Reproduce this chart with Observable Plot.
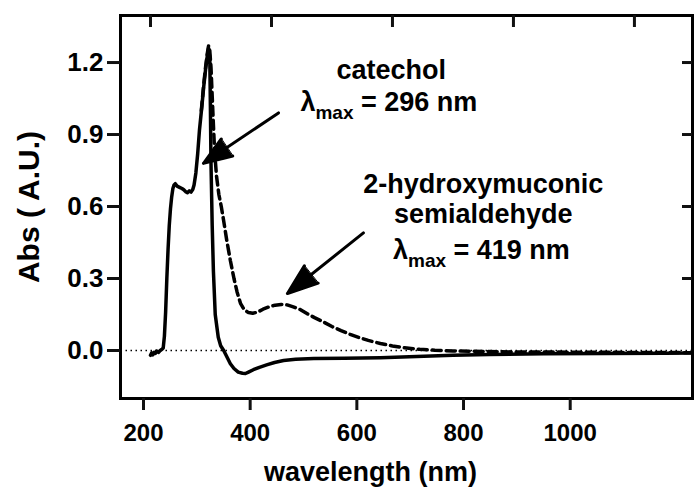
<!DOCTYPE html>
<html>
<head>
<meta charset="utf-8">
<script src="https://cdn.jsdelivr.net/npm/d3@7"></script>
<script src="https://cdn.jsdelivr.net/npm/@observablehq/plot@0.6"></script>
<style>
  html, body { margin: 0; padding: 0; background: #fff; }
  svg { display: block; }
</style>
</head>
<body>
<div id="chart"></div>
<script>
// Catechol spectrum (solid line)
const catWl  = [200,202,204,206,208,210,213,216,219,221,223,225,227,229,231,233,235,237,239,241,244,248,252,255,258,261,264,267,270,272,275,278,281,285,288,291,294,296,298,299,300,302,304,307,312,316,321,326,332,338,345,352,357,362,370,380,392,405,420,440,470,520,580,640,700,760,850,950,1050,1096];
const catAbs = [-0.02,-0.01,-0.018,-0.008,-0.012,-0.002,-0.008,0.0,0.005,0.01,0.06,0.16,0.3,0.42,0.52,0.59,0.64,0.675,0.69,0.695,0.685,0.68,0.675,0.67,0.662,0.658,0.665,0.66,0.672,0.69,0.74,0.82,0.92,1.02,1.10,1.17,1.23,1.26,1.22,1.02,0.78,0.52,0.33,0.15,0.055,0.02,0.0,-0.025,-0.055,-0.075,-0.09,-0.095,-0.096,-0.09,-0.08,-0.07,-0.06,-0.05,-0.042,-0.036,-0.033,-0.032,-0.03,-0.025,-0.02,-0.017,-0.014,-0.012,-0.011,-0.01];

// 2-hydroxymuconic semialdehyde spectrum (dashed line)
const hmsWl  = [284,288,291,294,296,298,300,302,304,306,309,313,317,321,326,332,338,343,349,355,362,369,377,386,396,406,416,426,436,448,460,472,485,500,515,530,545,560,580,600,620,645,670,700,750,800,900,1000,1096];
const hmsAbs = [1.0,1.11,1.18,1.24,1.27,1.25,1.18,1.06,0.94,0.83,0.73,0.65,0.6,0.54,0.46,0.375,0.3,0.245,0.195,0.17,0.158,0.155,0.16,0.172,0.182,0.189,0.192,0.19,0.182,0.17,0.152,0.136,0.12,0.1,0.083,0.067,0.054,0.042,0.029,0.019,0.011,0.005,0.001,-0.002,-0.004,-0.006,-0.007,-0.008,-0.009];

// Tick values / labels
const yTicks = [0, 0.3, 0.6, 0.9, 1.2];
const rightTicks = [0.3, 0.6, 0.9, 1.2];
const topTicks = [200, 400, 600, 800, 1000];
const bottomTickLabels = [200, 400, 600, 800, 1000];

// Annotation texts
const catLines = ["catechol", "λmax = 296 nm"];
const hmsLines = ["2-hydroxymuconic", "semialdehyde", "λmax = 419 nm"];

const xDomain = [150.4, 1096];
const yDomain = [-0.2, 1.396];

const cat = catWl.map((w, i) => ({wl: w, abs: catAbs[i]}));
const hms = hmsWl.map((w, i) => ({wl: w, abs: hmsAbs[i]}));

// The printed bottom axis is offset from the data scale (as in the original figure)
const bottomPos = v => 188.4 + (v - 200) * 0.8818;
const bottomLabelOf = d => String(Math.round((d - 188.4) / 0.8818 + 200));

const font = "Arial, 'Liberation Sans', Helvetica, sans-serif";

const arrows = [
  {x1: 411.6, y1: 0.99, x2: 287.6, y2: 0.78},
  {x1: 552, y1: 0.49, x2: 426.4, y2: 0.2375}
];

const txt = {fontSize: 27, fontWeight: "bold", fill: "#000", lineAnchor: "middle", textAnchor: "middle"};
const tickStyle = {stroke: "#111", strokeWidth: 3};

const chart = Plot.plot({
  width: 694,
  height: 491,
  marginLeft: 120,
  marginRight: 2,
  marginTop: 15,
  marginBottom: 93,
  style: {fontFamily: font, fontWeight: "bold", color: "#000", background: "#fff", overflow: "visible"},
  x: {domain: xDomain},
  y: {domain: yDomain},
  marks: [
    // dotted zero baseline
    Plot.link([0], {x1: () => xDomain[0], x2: () => xDomain[1], y1: d => d, y2: d => d, stroke: "#000", strokeWidth: 1.3, strokeDasharray: "1.5,3.5"}),
    Plot.line(hms, {x: "wl", y: "abs", stroke: "#000", strokeWidth: 3.5, strokeDasharray: "9,5"}),
    Plot.line(cat, {x: "wl", y: "abs", stroke: "#000", strokeWidth: 3.5}),
    Plot.arrow(arrows, {x1: "x1", y1: "y1", x2: "x2", y2: "y2", stroke: "#000", strokeWidth: 3, headLength: 20, headAngle: 40}),
    Plot.frame({stroke: "#000", strokeWidth: 3}),
    // tick marks
    Plot.ruleY(yTicks, {y: d => d, ...tickStyle, insetLeft: -13, insetRight: 572}),
    Plot.ruleY(rightTicks, {y: d => d, ...tickStyle, insetLeft: 562}),
    Plot.ruleX(bottomTickLabels.map(bottomPos), {x: d => d, ...tickStyle, insetTop: 383, insetBottom: -12}),
    Plot.ruleX(topTicks, {x: d => d, ...tickStyle, insetBottom: 371}),
    // tick labels
    Plot.axisY({ticks: yTicks, tickSize: 0, tickPadding: 17, tickFormat: d3.format(".1f"), fontSize: 26, label: null}),
    Plot.axisX({ticks: bottomTickLabels.map(bottomPos), tickFormat: bottomLabelOf, tickSize: 0, tickPadding: 25, fontSize: 24, label: null}),
    // axis titles
    Plot.text(["wavelength (nm)"], {...txt, frameAnchor: "bottom", dx: -36, dy: 73.4}),
    Plot.text(["Abs ( A.U.)"], {...txt, fontSize: 30, frameAnchor: "left", dx: -91.6, rotate: -90}),
    // annotations
    Plot.text([catLines[0]], {...txt, x: () => 598, y: () => 1.169}),
    Plot.text([catLines[1]], {...txt, x: () => 594, y: () => 1.036}),
    Plot.text([hmsLines[0]], {...txt, x: () => 750, y: () => 0.694}),
    Plot.text([hmsLines[1]], {...txt, x: () => 750, y: () => 0.569}),
    Plot.text([hmsLines[2]], {...txt, x: () => 747, y: () => 0.419})
  ]
});

// Filled arrowheads
d3.select(chart).selectAll('g[aria-label="arrow"] path').each(function() {
  const nums = (this.getAttribute("d").match(/-?\d*\.?\d+(e-?\d+)?/g) || []).map(Number);
  if (nums.length >= 6) {
    const n = nums.slice(-6);
    d3.select(this.parentNode).append("path")
      .attr("d", `M${n[0]},${n[1]}L${n[2]},${n[3]}L${n[4]},${n[5]}Z`)
      .attr("fill", "#000").attr("stroke", "#000").attr("stroke-width", 1)
      .attr("stroke-linejoin", "miter");
  }
});

// Subscript "max" in λmax
d3.select(chart).selectAll("text").each(function() {
  const t = this.textContent;
  if (t.startsWith("λmax")) {
    const rest = t.slice(4);
    const sel = d3.select(this);
    sel.text("");
    sel.append("tspan").text("λ");
    sel.append("tspan").attr("font-size", 19).attr("dy", 8).text("max");
    sel.append("tspan").attr("dy", -8).text(rest);
  }
});

document.getElementById("chart").appendChild(chart);
</script>
</body>
</html>
